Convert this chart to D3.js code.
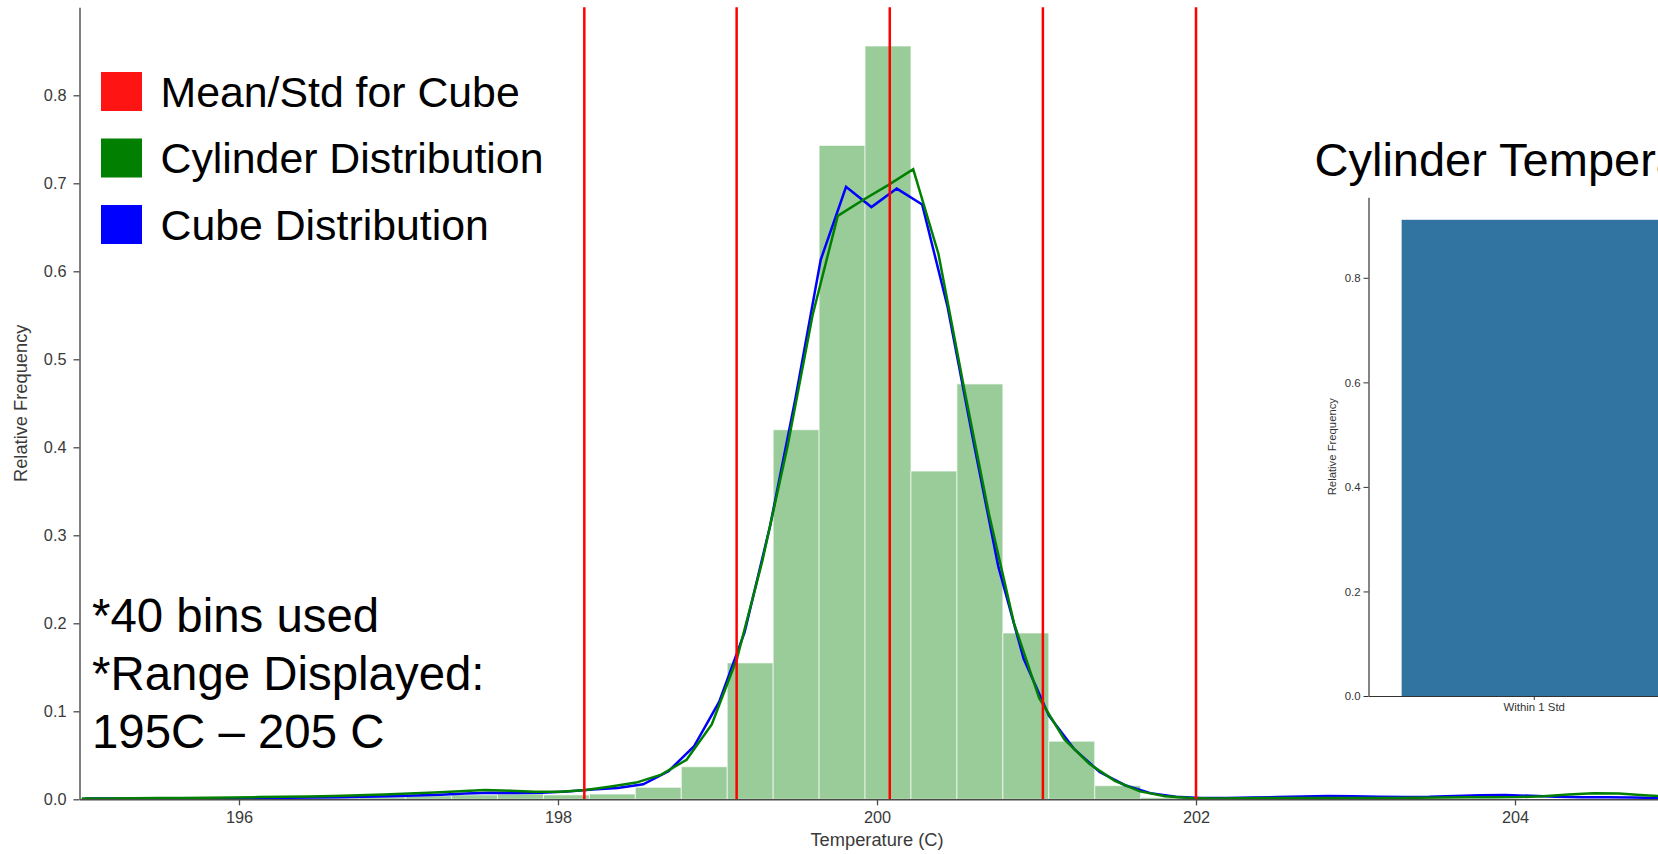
<!DOCTYPE html>
<html>
<head>
<meta charset="utf-8">
<script src="https://cdn.jsdelivr.net/npm/d3@7"></script>
<style>
  html, body { margin: 0; padding: 0; background: #fff; overflow: hidden; }
  svg { display: block; font-family: "Liberation Sans", Arial, sans-serif; }
</style>
</head>
<body>
<svg id="chart" width="1658" height="854"></svg>
<script>
// ---------- data ----------
const xTicks = [196, 198, 200, 202, 204];
const yTicks = [0.0, 0.1, 0.2, 0.3, 0.4, 0.5, 0.6, 0.7, 0.8];

// histogram (cylinder), 40 bins, bin width ~0.288 C
const binStart = [195.029, 195.317, 195.605, 195.893, 196.181, 196.469, 196.757, 197.045, 197.333, 197.621,
                  197.909, 198.197, 198.485, 198.773, 199.061, 199.349, 199.637, 199.925, 200.213, 200.501,
                  200.789, 201.077, 201.365, 201.653, 201.941];
const binWidth = 0.288;
const binValue = [0.0005, 0.0005, 0.001, 0.001, 0.0012, 0.0015, 0.0027, 0.004, 0.005, 0.006,
                  0.005, 0.006, 0.0136, 0.037, 0.155, 0.420, 0.743, 0.856, 0.373, 0.472,
                  0.189, 0.066, 0.0155, 0.002, 0.001];

// cube KDE (blue)
const blueT = [195.036, 195.195, 195.354, 195.513, 195.672, 195.831, 195.990, 196.149, 196.308, 196.467,
               196.626, 196.785, 196.944, 197.103, 197.262, 197.421, 197.580, 197.739, 197.898, 198.057,
               198.216, 198.375, 198.534, 198.693, 198.852, 199.011, 199.170, 199.329, 199.488, 199.647,
               199.806, 199.965, 200.124, 200.283, 200.442, 200.601, 200.760, 200.919, 201.078, 201.237,
               201.396, 201.555, 201.714, 201.873, 202.032, 202.191, 202.350, 202.509, 202.668, 202.827,
               202.986, 203.145, 203.304, 203.463, 203.622, 203.781, 203.940, 204.099, 204.258, 204.417,
               204.576, 204.735, 204.894, 205.053];
const blueV = [0.001, 0.001, 0.001, 0.001, 0.001, 0.001, 0.0012, 0.0015, 0.0018, 0.002,
               0.0022, 0.0028, 0.0035, 0.0042, 0.0052, 0.0065, 0.0075, 0.0072, 0.0075, 0.009,
               0.011, 0.0128, 0.017, 0.032, 0.060, 0.111, 0.190, 0.310, 0.455, 0.613,
               0.696, 0.673, 0.694, 0.676, 0.560, 0.410, 0.265, 0.160, 0.095, 0.057,
               0.031, 0.016, 0.007, 0.003, 0.0015, 0.0015, 0.002, 0.0025, 0.0033, 0.0037,
               0.0035, 0.003, 0.0025, 0.0028, 0.0038, 0.0047, 0.0048, 0.004, 0.0028, 0.0023,
               0.0022, 0.002, 0.0015, 0.0012];

// cylinder KDE (green)
const greenT = [195.014, 195.172, 195.330, 195.488, 195.646, 195.804, 195.962, 196.120, 196.278, 196.436,
                196.594, 196.752, 196.910, 197.068, 197.226, 197.384, 197.542, 197.700, 197.858, 198.016,
                198.174, 198.332, 198.490, 198.648, 198.806, 198.964, 199.122, 199.280, 199.438, 199.596,
                199.754, 199.912, 200.070, 200.227, 200.385, 200.543, 200.701, 200.859, 201.017, 201.175,
                201.333, 201.491, 201.649, 201.807, 201.965, 202.123, 202.281, 202.439, 202.597, 202.755,
                202.913, 203.071, 203.229, 203.387, 203.545, 203.703, 203.861, 204.019, 204.177, 204.335,
                204.493, 204.651, 204.809, 204.967, 205.125];
const greenV = [0.001, 0.001, 0.0012, 0.0014, 0.0016, 0.0018, 0.002, 0.0025, 0.003, 0.0033,
                0.0037, 0.0045, 0.0055, 0.0065, 0.0078, 0.0092, 0.0105, 0.0098, 0.0085, 0.0085,
                0.0105, 0.0145, 0.019, 0.028, 0.045, 0.085, 0.160, 0.270, 0.400, 0.550,
                0.663, 0.681, 0.698, 0.716, 0.620, 0.470, 0.325, 0.200, 0.115, 0.068,
                0.040, 0.021, 0.009, 0.0035, 0.0015, 0.001, 0.0012, 0.0015, 0.0015, 0.0015,
                0.0015, 0.0015, 0.0015, 0.0018, 0.002, 0.0022, 0.0022, 0.0025, 0.0035, 0.0055,
                0.0068, 0.0065, 0.0045, 0.003, 0.0025];

// cube mean and +/- 1, 2 std lines
const cubeLines = [198.165, 199.120, 200.080, 201.040, 202.000];

// legend
const legendLabels = ["Mean/Std for Cube", "Cylinder Distribution", "Cube Distribution"];
const legendColors = ["#ff1414", "#007f00", "#0000ff"];

// notes
const noteLines = ["*40 bins used", "*Range Displayed:", "195C \u2013 205 C"];

// inset
const insetCategories = ["Within 1 Std"];
const insetValues = [0.911];
const insetTicks = [0.0, 0.2, 0.4, 0.6, 0.8];
const insetTitle = "Cylinder Temperature";

// ---------- drawing ----------
const svg = d3.select("#chart");
const textColor = "#3a3a3a";
const axisColor = "#4a4a4a";

const x = d3.scaleLinear().domain([195, 205]).range([79.5, 1674.5]);
const y = d3.scaleLinear().domain([0, 0.9]).range([799.3, 7.3]);

// histogram bars
svg.append("g").selectAll("rect")
  .data(binStart.map((s, i) => ({ s, v: binValue[i] })))
  .join("rect")
  .attr("x", d => x(d.s))
  .attr("width", d => x(d.s + binWidth) - x(d.s))
  .attr("y", d => y(d.v))
  .attr("height", d => y(0) - y(d.v))
  .attr("fill", "#99cc99")
  .attr("stroke", "#ffffff")
  .attr("stroke-opacity", 0.6)
  .attr("stroke-width", 1.1);

// KDE lines
const line = d3.line().x(d => x(d[0])).y(d => y(d[1]));
svg.append("path")
  .datum(blueT.map((t, i) => [t, blueV[i]]))
  .attr("d", line).attr("fill", "none")
  .attr("stroke", "#0000ff").attr("stroke-width", 2.5);
svg.append("path")
  .datum(greenT.map((t, i) => [t, greenV[i]]))
  .attr("d", line).attr("fill", "none")
  .attr("stroke", "#008000").attr("stroke-width", 2.5);

// red mean/std lines
svg.append("g").selectAll("line")
  .data(cubeLines).join("line")
  .attr("x1", d => x(d)).attr("x2", d => x(d))
  .attr("y1", y(0)).attr("y2", y(0.9))
  .attr("stroke", "#ff0000").attr("stroke-width", 2.5);

// axes
const xAxis = svg.append("g")
  .attr("transform", `translate(0,${y(0)})`)
  .call(d3.axisBottom(x).tickValues(xTicks).tickFormat(d3.format("d"))
        .tickSize(6).tickPadding(6).tickSizeOuter(0));
const yAxis = svg.append("g")
  .attr("transform", `translate(${x(195)},0)`)
  .call(d3.axisLeft(y).tickValues(yTicks).tickFormat(d3.format(".1f"))
        .tickSize(6).tickPadding(7).tickSizeOuter(0));
[xAxis, yAxis].forEach(g => {
  g.select(".domain").attr("stroke", axisColor).attr("stroke-width", 1.4);
  g.selectAll(".tick line").attr("stroke", axisColor).attr("stroke-width", 1.3);
  g.selectAll(".tick text").attr("fill", textColor)
    .style("font-size", "16.3px").style("font-family", "'Liberation Sans', Arial, sans-serif");
});

svg.append("text")
  .attr("x", x(200)).attr("y", 846)
  .attr("text-anchor", "middle")
  .attr("fill", textColor)
  .style("font-size", "18.3px")
  .text("Temperature (C)");
svg.append("text")
  .attr("transform", `translate(26.5,${(y(0) + y(0.9)) / 2}) rotate(-90)`)
  .attr("text-anchor", "middle")
  .attr("fill", textColor)
  .style("font-size", "18.3px")
  .text("Relative Frequency");

// legend
const legend = svg.append("g");
legendLabels.forEach((lab, i) => {
  const top = 72 + i * 66.5;
  legend.append("rect")
    .attr("x", 101).attr("y", top).attr("width", 41).attr("height", 39)
    .attr("fill", legendColors[i]);
  legend.append("text")
    .attr("x", 160.5).attr("y", top + 34.5)
    .attr("fill", "#000")
    .style("font-size", "42.8px")
    .text(lab);
});

// notes
svg.append("g").selectAll("text")
  .data(noteLines).join("text")
  .attr("x", 92).attr("y", (d, i) => 632 + i * 57.8)
  .attr("fill", "#000")
  .style("font-size", "47.4px")
  .text(d => d);

// ---------- inset ----------
const ix = d3.scaleBand().domain(insetCategories).range([1368.5, 1700])
  .paddingInner(0.2).paddingOuter(0.1);
const iy = d3.scaleLinear().domain([0, 0.954]).range([696, 197.3]);

svg.append("text")
  .attr("x", 1314.5).attr("y", 175.5)
  .attr("fill", "#000")
  .style("font-size", "47px")
  .text(insetTitle);

svg.append("g").selectAll("rect")
  .data(insetCategories.map((c, i) => ({ c, v: insetValues[i] })))
  .join("rect")
  .attr("x", d => ix(d.c)).attr("width", ix.bandwidth())
  .attr("y", d => iy(d.v)).attr("height", d => iy(0) - iy(d.v))
  .attr("fill", "#3274a1");

const ixAxis = svg.append("g")
  .attr("transform", `translate(0,${iy(0)})`)
  .call(d3.axisBottom(ix).tickSize(4).tickPadding(3).tickSizeOuter(0));
const iyAxis = svg.append("g")
  .attr("transform", `translate(1368.5,0)`)
  .call(d3.axisLeft(iy).tickValues(insetTicks).tickFormat(d3.format(".1f"))
        .tickSize(5).tickPadding(3).tickSizeOuter(0));
[ixAxis, iyAxis].forEach(g => {
  g.select(".domain").attr("stroke", "#333").attr("stroke-width", 1.2);
  g.selectAll(".tick line").attr("stroke", "#333").attr("stroke-width", 1);
  g.selectAll(".tick text").attr("fill", "#333")
    .style("font-size", "11.4px").style("font-family", "'Liberation Sans', Arial, sans-serif");
});
svg.append("text")
  .attr("transform", `translate(1335.5,${(iy(0) + iy(0.954)) / 2}) rotate(-90)`)
  .attr("text-anchor", "middle")
  .attr("fill", "#333")
  .style("font-size", "11.3px")
  .text("Relative Frequency");
</script>
</body>
</html>
